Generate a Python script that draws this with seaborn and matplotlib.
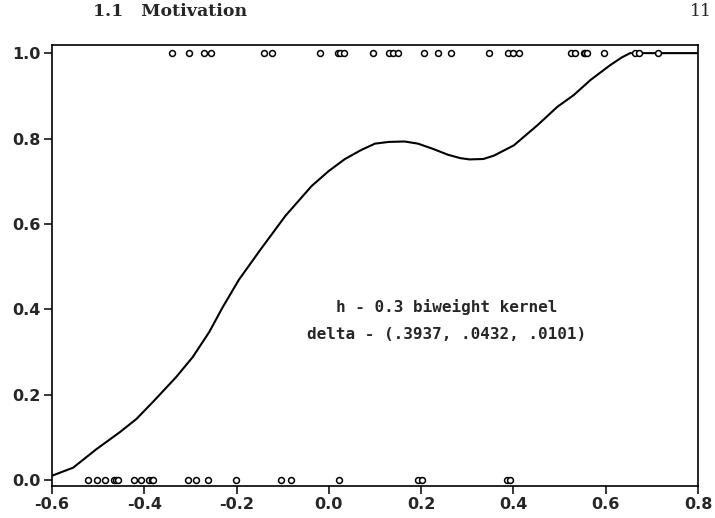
import numpy as np
import pandas as pd
import seaborn as sns
import matplotlib
matplotlib.use('Agg')
import matplotlib.pyplot as plt

############# Data #####################################
########################################################
# Smoothed estimate (biweight kernel, h = 0.3)
curve_x = [-0.600, -0.554, -0.504, -0.453, -0.417, -0.382, -0.331, -0.295, -0.259,
           -0.231, -0.195, -0.148, -0.094, -0.037, 0.000, 0.035, 0.070, 0.100, 0.130,
           0.164, 0.193, 0.225, 0.258, 0.285, 0.305, 0.335, 0.358, 0.401, 0.452,
           0.495, 0.531, 0.567, 0.610, 0.635, 0.653, 0.682, 0.800]
curve_y = [0.010, 0.029, 0.072, 0.112, 0.143, 0.182, 0.241, 0.288, 0.347,
           0.403, 0.469, 0.540, 0.619, 0.689, 0.724, 0.752, 0.773, 0.788, 0.792,
           0.793, 0.788, 0.776, 0.762, 0.754, 0.751, 0.752, 0.760, 0.784, 0.831,
           0.874, 0.902, 0.937, 0.972, 0.990, 1.000, 1.000, 1.000]

# Observations with response 1 (top row)
obs_one = [-0.340, -0.304, -0.270, -0.255, -0.141, -0.124, -0.019, 0.019, 0.024,
           0.033, 0.096, 0.130, 0.139, 0.149, 0.206, 0.236, 0.264, 0.348, 0.389,
           0.400, 0.412, 0.525, 0.534, 0.552, 0.556, 0.560, 0.597, 0.664, 0.673,
           0.714]
# Observations with response 0 (bottom row)
obs_zero = [-0.523, -0.502, -0.486, -0.466, -0.461, -0.456, -0.423, -0.407, -0.389,
            -0.384, -0.380, -0.305, -0.288, -0.261, -0.202, -0.103, -0.083, 0.022,
            0.193, 0.202, 0.386, 0.393]

x_ticks = [-0.6, -0.4, -0.2, 0.0, 0.2, 0.4, 0.6, 0.8]
y_ticks = [0.0, 0.2, 0.4, 0.6, 0.8, 1.0]

df_curve = pd.DataFrame({'x': curve_x, 'y': curve_y})
df_obs = pd.DataFrame({'x': obs_one + obs_zero,
                       'y': [1.0] * len(obs_one) + [0.0] * len(obs_zero)})

############# Plot #####################################
########################################################
sns.set_style('ticks')
plt.rcParams['font.family'] = ['DejaVu Sans']

fig = plt.figure(figsize=(7.15, 5.18), dpi=100)
ax = fig.add_axes([0.0727, 0.0618, 0.9035, 0.8513])

sns.lineplot(data=df_curve, x='x', y='y', color='black', linewidth=1.5, ax=ax)
sns.scatterplot(data=df_obs, x='x', y='y', marker='o', s=18, facecolor='white',
                edgecolor='black', linewidth=1.1, ax=ax, zorder=3)

ax.set_xlim(-0.6, 0.8)
ax.set_ylim(-0.014, 1.019)
ax.set_xticks(x_ticks)
ax.set_yticks(y_ticks)
ax.set_xticklabels([f'{t:.1f}' for t in x_ticks], fontsize=11.5, fontweight='bold')
ax.set_yticklabels([f'{t:.1f}' for t in y_ticks], fontsize=11.5, fontweight='bold')
ax.set_xlabel('')
ax.set_ylabel('')
ax.tick_params(direction='out', length=6, width=1.1, color='black', pad=2)
for spine in ax.spines.values():
    spine.set_visible(True)
    spine.set_color('black')
    spine.set_linewidth(1.2)

# Annotation
ax.text(0.255, 0.405, 'h - 0.3 biweight kernel', ha='center', va='center',
        family='DejaVu Sans Mono', fontsize=11.5, fontweight='bold')
ax.text(0.255, 0.34, 'delta - (.3937, .0432, .0101)', ha='center', va='center',
        family='DejaVu Sans Mono', fontsize=11.5, fontweight='bold')

# Page header
fig.text(93 / 715, 1 - 12 / 518, '1.1   Motivation', ha='left', va='center',
         family='DejaVu Serif', fontsize=12.5, fontweight='bold')
fig.text(712 / 715, 1 - 12 / 518, '11', ha='right', va='center',
         family='DejaVu Serif', fontsize=12.5)

plt.savefig('out.png', dpi=100)
